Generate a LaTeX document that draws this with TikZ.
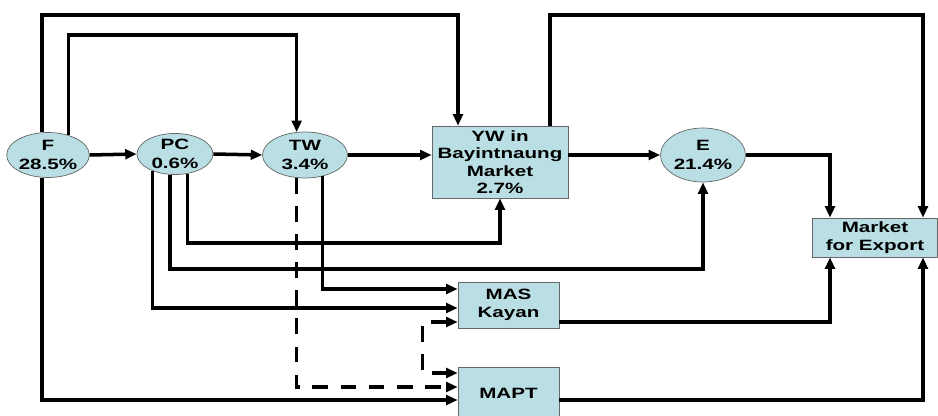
\documentclass[tikz,border=0pt]{standalone}
\usepackage{fontspec}
\setmainfont{Liberation Sans}[FakeStretch=1.38]
\usetikzlibrary{arrows.meta,shapes.geometric}
\definecolor{nodefill}{RGB}{185,223,228}

\begin{document}
\begin{tikzpicture}[x=0.02cm, y=-0.02cm, >={Triangle[length=6.5pt,width=5.5pt]},
    oval/.style={ellipse, draw=gray!80!black, fill=nodefill, inner sep=0pt,
        font=\bfseries\fontsize{8.5}{10.5}\selectfont, align=center},
    box/.style={rectangle, draw=gray!80!black, fill=nodefill, inner sep=0pt,
        font=\bfseries\fontsize{8.5}{10}\selectfont, align=center},
    link/.style={->, line width=2pt},
    dlink/.style={->, line width=2pt, dash pattern=on 9pt off 7pt}]

    \useasboundingbox (0,0) rectangle (938,416);

    % =================================================================
    % NODES
    % =================================================================
    \node[oval, minimum width=1.52cm, minimum height=0.9cm]  (F)  at (48,155)  {F\\28.5\%};
    \node[oval, minimum width=1.52cm, minimum height=0.8cm]  (PC) at (175,154) {PC\\0.6\%};
    \node[oval, minimum width=1.7cm,  minimum height=0.92cm] (TW) at (305,155) {TW\\3.4\%};
    \node[oval, minimum width=1.7cm,  minimum height=1.08cm] (E)  at (703,155) {E\\21.4\%};

    \node[box, minimum width=2.72cm, minimum height=1.44cm] (YW)   at (500,162)   {YW in\\Bayintnaung\\Market\\2.7\%};
    \node[box, minimum width=2.5cm,  minimum height=0.78cm] (Mkt)  at (875,237.5) {Market\\for Export};
    \node[box, minimum width=2.02cm, minimum height=0.92cm] (MAS)  at (508.5,305) {MAS\\Kayan};
    \node[box, minimum width=2.02cm, minimum height=1.04cm] (MAPT) at (508.5,393) {MAPT};

    % rails for the bent connectors
    \coordinate (rail1) at (0,15);
    \coordinate (rail2) at (0,35);
    \coordinate (rail3) at (0,243);
    \coordinate (rail4) at (0,269);
    \coordinate (ywout) at ([xshift=1cm]YW.north);

    % =================================================================
    % MAIN CHAIN
    % =================================================================
    \draw[link] (F.east) -- (PC.west);
    \draw[link] (PC.east) -- (TW.west);
    \draw[link] (TW.east) -- (TW.east -| YW.west);
    \draw[link] (E.west -| YW.east) -- (E.west);

    % Over the top
    \draw[link] (F.105) -- (F.105 |- rail1) -| ([xshift=-0.84cm]YW.north);
    \draw[link] (F.44) -- (F.44 |- rail2) -| (TW.110);
    \draw[link] (ywout) -- (ywout |- rail1) -| ([xshift=0.96cm]Mkt.north);
    \draw[link] (E.east) -| ([xshift=-0.9cm]Mkt.north);

    % Below the chain
    \draw[link] (PC.302) -- (PC.302 |- rail3) -| (YW.south);
    \draw[link] (PC.256) -- (PC.256 |- rail4) -| (E.south);
    \draw[link] (PC.217) |- ([yshift=-0.06cm]MAS.west);
    \draw[link] (TW.309) |- ([yshift=0.32cm]MAS.west);
    \draw[dlink] (TW.250) |- ([yshift=0.12cm]MAPT.west);
    \draw[dlink, <->] ([yshift=-0.34cm]MAS.west) -- ++(-35,0) |- ([yshift=0.4cm]MAPT.west);
    \draw[link] (F.255) |- ([yshift=-0.14cm]MAPT.west);

    % Into the export market
    \draw[link] ([yshift=-0.34cm]MAS.east) -| ([xshift=-0.9cm]Mkt.south);
    \draw[link] ([yshift=-0.14cm]MAPT.east) -| ([xshift=0.96cm]Mkt.south);

\end{tikzpicture}
\end{document}
